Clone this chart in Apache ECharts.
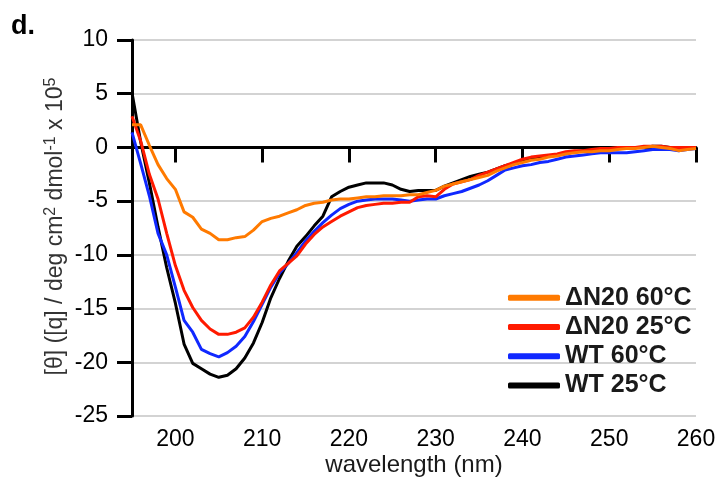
<!DOCTYPE html>
<html>
<head>
<meta charset="utf-8">
<script src="https://cdn.jsdelivr.net/npm/echarts@6/dist/echarts.min.js"></script>
<style>
  html, body { margin: 0; padding: 0; background: #fff; }
  #main { width: 720px; height: 477px; }
</style>
</head>
<body>
<div id="main"></div>
<script>
var wavelength = [];
for (var w = 195; w <= 260; w++) wavelength.push(w);

// values, x 10^5, one per nm from 195 to 260
var wt25 = [5.1, 0.5, -3.3, -7.4, -11.2, -14.5, -18.3, -20.1, -20.6, -21.1,
  -21.4, -21.2, -20.6, -19.6, -18.2, -16.3, -14.0, -12.2, -10.6, -9.2,
  -8.3, -7.3, -6.4, -4.6, -4.1, -3.7, -3.5, -3.3, -3.3, -3.3,
  -3.5, -3.9, -4.1, -4.0, -4.0, -4.0, -3.6, -3.3, -3.0, -2.7,
  -2.5, -2.3, -2.0, -1.7, -1.5, -1.2, -1.0, -0.9, -0.8, -0.7,
  -0.6, -0.4, -0.3, -0.3, -0.2, -0.2, -0.1, -0.1, 0, 0,
  0.1, 0.1, 0, 0, -0.1, 0];
var wt60 = [1.4, -1.5, -4.5, -8.0, -10.0, -13.0, -16.1, -17.2, -18.8, -19.2,
  -19.5, -19.1, -18.5, -17.6, -16.2, -14.6, -13.0, -11.7, -10.8, -9.8,
  -8.7, -7.8, -7.0, -6.3, -5.7, -5.3, -5.0, -4.9, -4.8, -4.8,
  -4.8, -4.9, -5.0, -4.9, -4.8, -4.8, -4.5, -4.3, -4.1, -3.8,
  -3.5, -3.1, -2.6, -2.1, -1.9, -1.7, -1.6, -1.4, -1.3, -1.1,
  -0.9, -0.8, -0.7, -0.6, -0.5, -0.5, -0.5, -0.5, -0.4, -0.3,
  -0.2, -0.2, -0.2, -0.3, -0.2, -0.1];
var dn25 = [2.9, 0.6, -2.5, -4.8, -8.0, -11.0, -13.3, -14.9, -16.1, -16.9,
  -17.4, -17.4, -17.2, -16.8, -15.8, -14.4, -12.8, -11.5, -10.8, -10.1,
  -9.0, -8.1, -7.4, -6.9, -6.4, -6.0, -5.6, -5.4, -5.3, -5.2,
  -5.2, -5.1, -5.1, -4.6, -4.5, -4.6, -3.9, -3.4, -3.2, -3.0,
  -2.6, -2.3, -2.0, -1.7, -1.4, -1.1, -0.9, -0.8, -0.7, -0.6,
  -0.4, -0.3, -0.3, -0.2, -0.1, -0.1, 0, 0, 0, 0.1,
  0.1, 0.1, 0, 0, 0, 0];
var dn60 = [2.1, 2.1, 0.2, -1.6, -2.9, -3.9, -6.0, -6.5, -7.6, -8.0,
  -8.6, -8.6, -8.4, -8.3, -7.7, -6.9, -6.6, -6.4, -6.1, -5.8,
  -5.4, -5.2, -5.1, -4.9, -4.8, -4.8, -4.7, -4.6, -4.6, -4.5,
  -4.5, -4.5, -4.4, -4.4, -4.2, -4.0, -3.6, -3.4, -3.2, -3.0,
  -2.8, -2.6, -2.2, -1.9, -1.6, -1.4, -1.2, -1.1, -0.9, -0.8,
  -0.6, -0.5, -0.4, -0.4, -0.3, -0.3, -0.2, -0.1, -0.1, 0,
  0.1, 0, -0.1, -0.3, -0.2, -0.1];

var xTicks = [200, 210, 220, 230, 240, 250, 260];
var names = ['ΔN20 60°C', 'ΔN20 25°C', 'WT 60°C', 'WT 25°C'];

function pairs(vals) {
  return vals.map(function (v, i) { return [wavelength[i], v]; });
}

var font = 'Arial, "Liberation Sans", sans-serif';
var myChart = echarts.init(document.getElementById('main'));

var option = {
  animation: false,
  textStyle: { fontFamily: font },
  title: {
    text: 'd.',
    left: 6,
    top: 8,
    textStyle: { fontSize: 27, fontWeight: 'bold', color: '#000', fontFamily: font }
  },
  grid: { left: 132, right: 24, top: 40, bottom: 61, outerBoundsMode: 'none', containLabel: false },
  legend: {
    orient: 'vertical',
    left: 503,
    top: 278,
    itemWidth: 52,
    itemHeight: 6,
    itemGap: 0,
    icon: 'roundRect',
    data: names,
    textStyle: { fontSize: 25, fontWeight: 'bold', color: '#1a1a1a', lineHeight: 29.3, fontFamily: font }
  },
  xAxis: [
    {
      type: 'value',
      min: 195,
      max: 260,
      axisLine: { onZero: true, lineStyle: { color: '#000', width: 3 } },
      axisTick: { show: true, length: 15, lineStyle: { color: '#000', width: 3 }, customValues: xTicks },
      axisLabel: { show: false },
      splitLine: { show: false }
    },
    {
      type: 'value',
      position: 'bottom',
      min: 195,
      max: 260,
      offset: 0,
      axisLine: { show: false, onZero: false },
      axisTick: { show: false },
      splitLine: { show: false },
      axisLabel: { customValues: xTicks, fontSize: 23, color: '#000', margin: 12, fontFamily: font },
      name: 'wavelength (nm)',
      nameLocation: 'middle',
      nameGap: 37,
      nameMoveOverlap: false,
      nameTextStyle: { fontSize: 24, color: '#1a1a1a', fontFamily: font }
    }
  ],
  yAxis: {
    type: 'value',
    min: -25,
    max: 10,
    interval: 5,
    axisLine: { show: true, onZero: false, lineStyle: { color: '#000', width: 3 } },
    axisTick: { show: true, length: 15, lineStyle: { color: '#000', width: 3 } },
    axisLabel: { fontSize: 23, color: '#000', margin: 24, fontFamily: font },
    splitLine: { lineStyle: { color: '#c4c4c4', width: 1.5 } },
    name: '[θ] ([q] / deg cm{sup|2} dmol{sup|-1} x 10{sup|5}',
    nameLocation: 'middle',
    nameRotate: 90,
    nameGap: 63,
    nameMoveOverlap: false,
    nameTextStyle: {
      fontSize: 23,
      color: '#333',
      fontFamily: font,
      padding: [0, 0, 0, 3],
      rich: {
        sup: { fontSize: 16, verticalAlign: 'top', lineHeight: 26, color: '#333', fontFamily: font }
      }
    }
  },
  series: [
    { name: 'WT 25°C', type: 'line', data: pairs(wt25), color: '#000000' },
    { name: 'WT 60°C', type: 'line', data: pairs(wt60), color: '#1028ff' },
    { name: 'ΔN20 25°C', type: 'line', data: pairs(dn25), color: '#ff1a00' },
    { name: 'ΔN20 60°C', type: 'line', data: pairs(dn60), color: '#ff7a00' }
  ].map(function (s) {
    s.symbol = 'none';
    s.lineStyle = { width: 3, color: s.color };
    s.itemStyle = { color: s.color };
    return s;
  })
};

option && myChart.setOption(option);
</script>
</body>
</html>
